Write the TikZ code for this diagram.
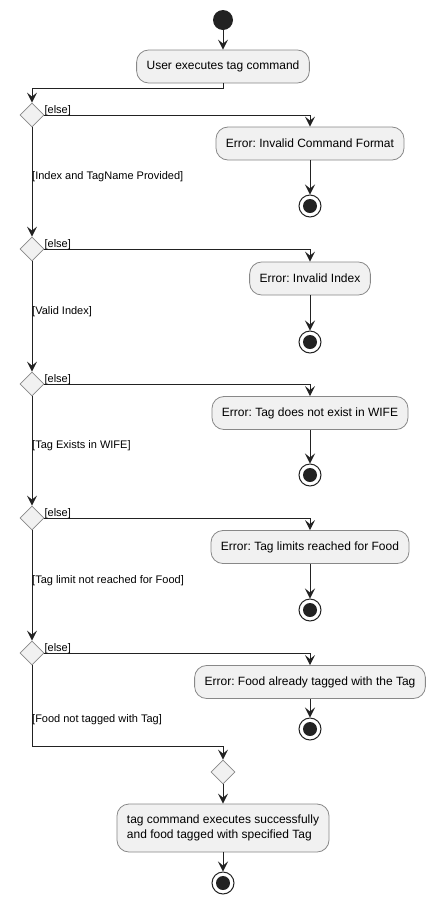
\documentclass[tikz,border=0pt]{standalone}
\usepackage{fontspec}
\setmainfont{Liberation Sans}
\usetikzlibrary{arrows.meta,shapes.geometric}
\definecolor{boxfill}{HTML}{F1F1F1}
\definecolor{boxline}{HTML}{888888}
\definecolor{dark}{HTML}{222222}
\newcommand{\stopmark}[2]{\node[endouter] (#1) at #2 {};\fill[dark] #2 circle (7pt);}
\frenchspacing
\begin{document}
\frenchspacing
\begin{tikzpicture}[x=1pt,y=-1pt,
  act/.style={draw=boxline,fill=boxfill,rounded corners=12pt,line width=0.8pt,
    minimum height=33pt,inner xsep=10pt,font=\fontsize{12}{14}\selectfont},
  dec/.style={diamond,draw=boxline,fill=boxfill,line width=0.8pt,minimum width=24pt,minimum height=24pt,inner sep=0pt},
  startnode/.style={circle,fill=dark,minimum size=20pt,inner sep=0pt},
  endouter/.style={circle,draw=dark,fill=white,line width=1pt,minimum size=22pt,inner sep=0pt},
  lbl/.style={font=\fontsize{11}{13}\selectfont,inner sep=0pt},
  flow/.style={draw=dark,line width=1pt,-{Stealth[length=10pt,width=10pt,inset=4pt]}}
]
\useasboundingbox (0,0) rectangle (437,903);

\node[startnode] (s) at (223,20) {};
\node[act] (a1) at (223,66.5) {User executes tag command};

\node[dec] (d1) at (32,115) {};
\node[act] (e1) at (310,143.5) {Error: Invalid Command Format};
\stopmark{x1}{(310,206)}

\node[dec] (d2) at (32,249) {};
\node[act] (e2) at (310,278.5) {Error: Invalid Index};
\stopmark{x2}{(310,342)}

\node[dec] (d3) at (32,384) {};
\node[act] (e3) at (310,413) {Error: Tag does not exist in WIFE};
\stopmark{x3}{(310,475)}

\node[dec] (d4) at (32,518) {};
\node[act] (e4) at (310,547) {Error: Tag limits reached for Food};
\stopmark{x4}{(310,610)}

\node[dec] (d5) at (32,653) {};
\node[act] (e5) at (310,682) {Error: Food already tagged with the Tag};
\stopmark{x5}{(310,729)}

\node[dec] (m) at (223,772) {};
\node[act,minimum height=48pt,align=left,font=\fontsize{12}{15}\selectfont] (f) at (223,828)
  {tag command executes successfully\\and food tagged with specified Tag};
\stopmark{xf}{(223,883)}

\draw[flow] (s) -- (a1);
\draw[flow] (a1.south) -- (223,88) -- (32,88) -- (d1.north);

\foreach \d/\e/\x in {d1/e1/x1,d2/e2/x2,d3/e3/x3,d4/e4/x4,d5/e5/x5}{
  \draw[flow] (\d.east) -| (\e.north);
  \draw[flow] (\e.south) -- (\x.north);
  \node[lbl,anchor=south west] at ([yshift=-1pt]\d.east) {[else]};
}
\draw[flow] (d1.south) -- (d2.north);
\draw[flow] (d2.south) -- (d3.north);
\draw[flow] (d3.south) -- (d4.north);
\draw[flow] (d4.south) -- (d5.north);
\draw[flow] (d5.south) -- (32,746) -| (m.north);
\draw[flow] (m.south) -- (f.north);
\draw[flow] (f.south) -- (xf.north);

\node[lbl,anchor=west] at (32,177) {[Index and TagName Provided]};
\node[lbl,anchor=west] at (32,312) {[Valid Index]};
\node[lbl,anchor=west] at (32,446) {[Tag Exists in WIFE]};
\node[lbl,anchor=west] at (32,581) {[Tag limit not reached for Food]};
\node[lbl,anchor=west] at (32,720) {[Food not tagged with Tag]};
\end{tikzpicture}
\end{document}
